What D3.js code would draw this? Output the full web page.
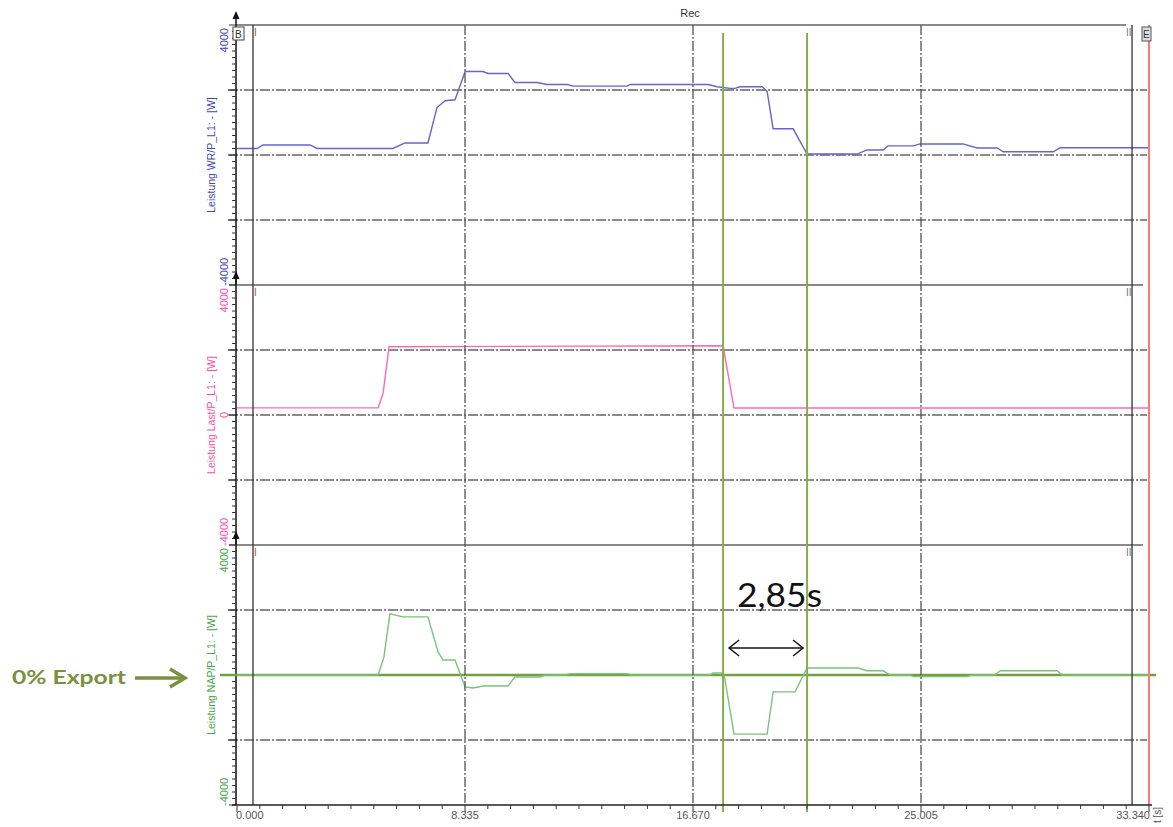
<!DOCTYPE html>
<html>
<head>
<meta charset="utf-8">
<script src="https://cdn.jsdelivr.net/npm/d3@7"></script>
<style>
  body { margin: 0; background: #fff; }
  svg { display: block; font-family: "Liberation Sans", Arial, sans-serif; }
</style>
</head>
<body>
<div id="chart"></div>
<script>
const width = 1173;
const height = 827;

// Daten
const wrTime  = [0, 0.73, 0.95, 2.67, 2.93, 5.70, 6.14, 6.98, 7.31, 7.61, 7.97, 8.34, 8.99, 9.18, 9.91, 10.16, 10.97, 11.33, 12.07, 12.29, 14.26, 14.37, 17.22, 17.55, 18.03, 18.21, 18.39, 19.20, 19.38, 19.60, 20.33, 20.84, 22.67, 23.03, 23.62, 23.80, 24.72, 24.97, 26.54, 27.06, 27.79, 28.01, 29.84, 30.09, 33.34];
const wrPower = [200, 200, 310, 310, 200, 200, 370, 370, 1460, 1670, 1700, 2570, 2570, 2510, 2510, 2230, 2230, 2170, 2170, 2120, 2120, 2170, 2170, 2100, 2050, 2050, 2100, 2100, 1960, 806, 806, 30, 30, 155, 155, 280, 280, 340, 340, 217, 217, 100, 100, 225, 225];

const lastTime  = [0, 5.16, 5.34, 5.56, 17.77, 18.17, 33.34];
const lastPower = [220, 220, 670, 2100, 2130, 215, 215];

const napTime  = [0, 5.16, 5.37, 5.59, 6.07, 6.98, 7.35, 7.53, 7.97, 8.34, 8.63, 8.99, 9.91, 10.16, 11.08, 11.26, 11.99, 12.18, 14.26, 14.44, 17.29, 17.40, 17.73, 17.81, 18.17, 19.38, 19.60, 20.40, 20.84, 22.71, 23.03, 23.62, 23.88, 24.61, 24.72, 26.69, 26.87, 27.71, 27.90, 29.98, 30.16, 33.34];
const napPower = [0, 0, 550, 1880, 1790, 1790, 710, 460, 460, -370, -400, -340, -340, -60, -60, 0, 0, 40, 40, 0, 0, 60, 60, 0, -1820, -1820, -520, -520, 215, 215, 130, 130, 0, 0, -50, -50, 0, 0, 130, 130, 0, 0];

const panelNames  = ["Leistung WR/P_L1: - [W]", "Leistung Last/P_L1: - [W]", "Leistung NAP/P_L1: - [W]"];
const lineColors  = ["#6464d2", "#ff6ab0", "#79c479"];
const labelColors = ["#4646be", "#ff4f9e", "#44a844"];
const yTicks      = [-4000, -2000, 0, 2000, 4000];
const yTickLabels = [["4000", "-4000"], ["4000", "0", "-4000"], ["4000", "-4000"]];
const xTicks      = [0, 8.335, 16.670, 25.005, 33.340];
const xTickLabels = ["0.000", "8.335", "16.670", "25.005", "33.340"];
const cursorTimes = [17.77, 20.84];
const markerTimes = [0.585, 32.72];

const series = [
  wrTime.map((t, i) => ({ t, p: wrPower[i] })),
  lastTime.map((t, i) => ({ t, p: lastPower[i] })),
  napTime.map((t, i) => ({ t, p: napPower[i] }))
];

const svg = d3.select("#chart").append("svg")
  .attr("width", width)
  .attr("height", height);

const x = d3.scaleLinear().domain([0, 33.34]).range([237, 1149]);
const band = d3.scaleBand().domain([0, 1, 2]).range([25, 805]);
const axisX = 236;

const gridDash = "10,2,2,2";

// Titel
svg.append("text")
  .attr("x", 690).attr("y", 17)
  .attr("text-anchor", "middle")
  .attr("font-size", 11).attr("fill", "#333")
  .text("Rec");

// Panels
series.forEach((data, k) => {
  const top = band(k);
  const bottom = top + band.bandwidth();
  const y = d3.scaleLinear().domain([-4000, 4000]).range([bottom, top]);
  const g = svg.append("g");

  // obere Begrenzung
  g.append("line")
    .attr("x1", axisX).attr("x2", k === 0 ? 1126 : 1143)
    .attr("y1", top).attr("y2", top)
    .attr("stroke", "#8a8a8a").attr("stroke-width", 2);

  // horizontale Gitterlinien
  g.selectAll("line.hgrid")
    .data([-2000, 0, 2000])
    .enter().append("line")
    .attr("class", "hgrid")
    .attr("x1", axisX - 8).attr("x2", 1147)
    .attr("y1", d => y(d)).attr("y2", d => y(d))
    .attr("stroke", "#666").attr("stroke-width", 1.3)
    .attr("stroke-dasharray", gridDash);

  // Y-Achse mit Nebenteilstrichen
  g.append("line")
    .attr("x1", axisX).attr("x2", axisX)
    .attr("y1", bottom).attr("y2", top - 8)
    .attr("stroke", "#111").attr("stroke-width", 1.5);
  g.append("path")
    .attr("d", `M${axisX - 3.5},${top - 6}L${axisX},${top - 14}L${axisX + 3.5},${top - 6}Z`)
    .attr("fill", "#111");

  const minor = d3.range(-4000, 4001, 200);
  g.selectAll("line.ytick")
    .data(minor)
    .enter().append("line")
    .attr("class", "ytick")
    .attr("x1", d => yTicks.includes(d) ? axisX - 7 : axisX - 4)
    .attr("x2", axisX)
    .attr("y1", d => y(d)).attr("y2", d => y(d))
    .attr("stroke", "#333").attr("stroke-width", 1);

  // Tick-Beschriftungen (gedreht)
  yTickLabels[k].forEach(lbl => {
    const v = +lbl;
    const anchor = v > 0 ? "end" : v < 0 ? "start" : "middle";
    const yy = v > 0 ? y(v) + 3 : v < 0 ? y(v) + 1 : y(v);
    g.append("text")
      .attr("transform", `translate(${axisX - 8},${yy}) rotate(-90)`)
      .attr("text-anchor", anchor)
      .attr("font-size", 11)
      .attr("fill", labelColors[k])
      .text(v < 0 ? "\u2010" + lbl.slice(1) : lbl);
  });

  // Achsentitel
  g.append("text")
    .attr("transform", `translate(${215},${y(0)}) rotate(-90)`)
    .attr("text-anchor", "middle")
    .attr("font-size", 10.5)
    .attr("fill", labelColors[k])
    .text(panelNames[k]);

  // Cursor-Markierungen
  g.append("text").attr("x", x(markerTimes[0]) + 1).attr("y", top + 11)
    .attr("font-size", 10).attr("fill", "#8a6a4a").text("I");
  g.append("text").attr("x", x(markerTimes[1]) - 6).attr("y", top + 11)
    .attr("font-size", 10).attr("fill", "#777").text("II");

  if (k === 2) {
    // 0% Export Linie
    g.append("line")
      .attr("x1", 220).attr("x2", 1156)
      .attr("y1", y(0)).attr("y2", y(0))
      .attr("stroke", "#74a040").attr("stroke-width", 2.5);
  }

  const line = d3.line()
    .x(d => x(d.t))
    .y(d => y(d.p));

  g.append("path")
    .datum(data)
    .attr("d", line)
    .attr("fill", "none")
    .attr("stroke", lineColors[k])
    .attr("stroke-width", 1.4);
});

// vertikale Gitterlinien
svg.selectAll("line.vgrid")
  .data(xTicks.slice(1, 4))
  .enter().append("line")
  .attr("class", "vgrid")
  .attr("x1", d => x(d)).attr("x2", d => x(d))
  .attr("y1", 25).attr("y2", 805)
  .attr("stroke", "#555").attr("stroke-width", 1.3)
  .attr("stroke-dasharray", gridDash);

// Cursorlinien (dunkel)
svg.selectAll("line.marker")
  .data(markerTimes)
  .enter().append("line")
  .attr("class", "marker")
  .attr("x1", d => x(d)).attr("x2", d => x(d))
  .attr("y1", 25).attr("y2", 805)
  .attr("stroke", "#333").attr("stroke-width", 1.3);

// rote Endlinie
svg.append("line")
  .attr("x1", x(33.34)).attr("x2", x(33.34))
  .attr("y1", 25).attr("y2", 805)
  .attr("stroke", "#ff7878").attr("stroke-width", 2);

// grüne Messcursor
svg.selectAll("line.cursor")
  .data(cursorTimes)
  .enter().append("line")
  .attr("class", "cursor")
  .attr("x1", d => x(d)).attr("x2", d => x(d))
  .attr("y1", 33).attr("y2", 812)
  .attr("stroke", "#86ac4c").attr("stroke-width", 2);

// kleine Kästchen oben
svg.append("rect").attr("x", 233).attr("y", 27).attr("width", 11).attr("height", 13)
  .attr("fill", "#fff").attr("stroke", "#444");
svg.append("text").attr("x", 235).attr("y", 38).attr("font-size", 10).attr("fill", "#333").text("B");
svg.append("rect").attr("x", 1142).attr("y", 27).attr("width", 9).attr("height", 14)
  .attr("fill", "#ddd").attr("stroke", "#555");
svg.append("text").attr("x", 1143).attr("y", 38).attr("font-size", 10).attr("fill", "#333").text("E");

// X-Achse
const xAxisY = 805;
svg.append("line")
  .attr("x1", axisX - 4).attr("x2", 1152)
  .attr("y1", xAxisY).attr("y2", xAxisY)
  .attr("stroke", "#222").attr("stroke-width", 1.3);
svg.selectAll("line.xminor")
  .data(d3.range(0, 41).map(i => i * 0.8335))
  .enter().append("line")
  .attr("class", "xminor")
  .attr("x1", d => x(d)).attr("x2", d => x(d))
  .attr("y1", xAxisY).attr("y2", (d, i) => i % 10 === 0 ? xAxisY + 7 : xAxisY + 4)
  .attr("stroke", "#333");
svg.selectAll("text.xlabel")
  .data(xTicks)
  .enter().append("text")
  .attr("class", "xlabel")
  .attr("x", (d, i) => i === 0 ? x(d) - 1 : i === 4 ? x(d) + 1 : x(d))
  .attr("y", 819)
  .attr("text-anchor", (d, i) => i === 0 ? "start" : i === 4 ? "end" : "middle")
  .attr("font-size", 11)
  .attr("fill", "#555")
  .text((d, i) => xTickLabels[i]);
svg.append("text")
  .attr("transform", `translate(${1161},${815}) rotate(-90)`)
  .attr("text-anchor", "middle")
  .attr("font-size", 10)
  .attr("fill", "#555")
  .text("t [s]");

// Anmerkungen
const olive = "#76923c";
svg.append("text")
  .attr("x", 12).attr("y", 684)
  .attr("font-family", "Lato, 'Open Sans', sans-serif")
  .attr("font-weight", "bold")
  .attr("font-size", 19)
  .attr("textLength", 114)
  .attr("lengthAdjust", "spacingAndGlyphs")
  .attr("fill", olive)
  .text("0% Export");
svg.append("line")
  .attr("x1", 135).attr("x2", 184)
  .attr("y1", 678).attr("y2", 678)
  .attr("stroke", olive).attr("stroke-width", 3.5);
svg.append("path")
  .attr("d", "M170,669L185,678L170,687")
  .attr("fill", "none").attr("stroke", olive).attr("stroke-width", 3.5);

const arrowY = 648;
const ax1 = x(cursorTimes[0]) + 6;
const ax2 = x(cursorTimes[1]) - 4;
svg.append("line")
  .attr("x1", ax1).attr("x2", ax2)
  .attr("y1", arrowY).attr("y2", arrowY)
  .attr("stroke", "#111").attr("stroke-width", 1.5);
svg.append("path")
  .attr("d", `M${ax1 + 10},${arrowY - 8}L${ax1},${arrowY}L${ax1 + 10},${arrowY + 8}`)
  .attr("fill", "none").attr("stroke", "#111").attr("stroke-width", 1.5);
svg.append("path")
  .attr("d", `M${ax2 - 10},${arrowY - 8}L${ax2},${arrowY}L${ax2 - 10},${arrowY + 8}`)
  .attr("fill", "none").attr("stroke", "#111").attr("stroke-width", 1.5);
svg.append("text")
  .attr("x", 737).attr("y", 607)
  .attr("font-family", "Lato, 'Open Sans', sans-serif")
  .attr("font-size", 32)
  .attr("textLength", 85)
  .attr("lengthAdjust", "spacingAndGlyphs")
  .attr("fill", "#111")
  .text("2,85s");
</script>
</body>
</html>
